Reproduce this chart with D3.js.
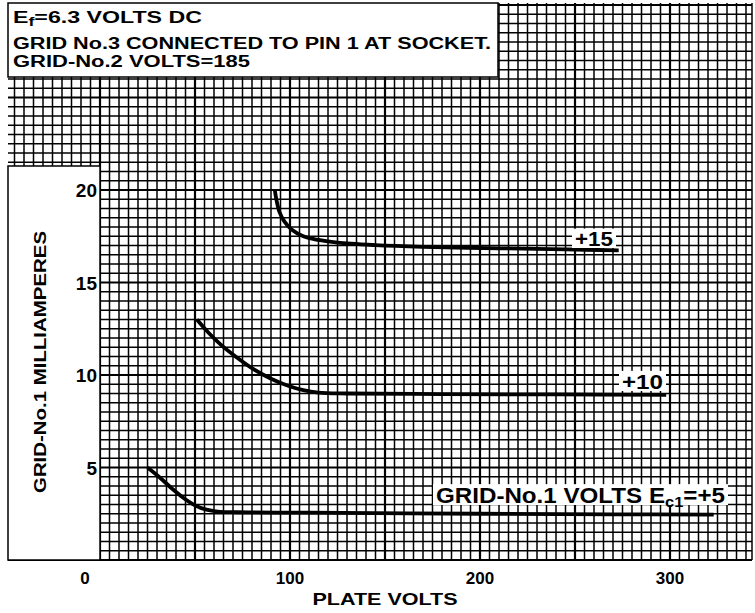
<!DOCTYPE html>
<html><head><meta charset="utf-8">
<script src="https://cdn.jsdelivr.net/npm/d3@7"></script>
<style>
html,body{margin:0;padding:0;background:#fff;}
svg{display:block;}
text{font-family:"Liberation Sans","DejaVu Sans",sans-serif;font-weight:bold;fill:#000;}
</style></head>
<body>
<svg id="c" width="755" height="613"></svg>
<script>
// ---- data ----
const xTicks = [0, 100, 200, 300];
const yTicks = [5, 10, 15, 20];
const seriesNames = ["+15", "+10", "+5"];
const ec15 = [[92,20.0],[93,19.4],[94.5,18.8],[97,18.3],[101,17.85],[107,17.5],[115,17.3],[125,17.15],[145,17.02],[170,16.93],[210,16.85],[245,16.79],[273,16.74]];
const ec10 = [[51,13.0],[57,12.3],[64,11.6],[72,10.95],[81,10.3],[90,9.8],[99,9.42],[107,9.18],[115,9.05],[130,9.0],[180,8.97],[240,8.95],[298,8.93]];
const ec5  = [[25,5.0],[31,4.5],[38,3.85],[44,3.35],[50,2.95],[56,2.72],[62,2.62],[72,2.58],[110,2.56],[200,2.5],[270,2.47],[323,2.45]];
const headerLines = ["=6.3 VOLTS DC", "GRID No.3 CONNECTED TO PIN 1 AT SOCKET.", "GRID-No.2 VOLTS=185"];
const xTitle = "PLATE VOLTS";
const yTitle = "GRID-No.1 MILLIAMPERES";

const svg = d3.select("#c");
const x = d3.scaleLinear().domain([0, 340]).range([100, 746]);
const y = d3.scaleLinear().domain([0, 30]).range([560, 5]);

// ---- grid ----
const g = svg.append("g");
const vLines = d3.range(-45, 345, 5);
const hLines = d3.range(0, 30.01, 0.5);
g.selectAll("line.v").data(vLines).join("line")
  .attr("x1", d => x(d)).attr("x2", d => x(d))
  .attr("y1", 3).attr("y2", 560)
  .attr("stroke", "#000")
  .attr("stroke-width", d => d % 50 === 0 ? 2.2 : 1.5);
g.selectAll("line.h").data(hLines).join("line")
  .attr("x1", 8).attr("x2", 752)
  .attr("y1", d => y(d)).attr("y2", d => y(d))
  .attr("stroke", "#000")
  .attr("stroke-width", d => d % 5 === 0 ? 2.2 : 1.5);
svg.append("line").attr("x1", 8).attr("x2", 752).attr("y1", 560).attr("y2", 560)
  .attr("stroke", "#000").attr("stroke-width", 2);
svg.append("line").attr("x1", 752).attr("x2", 752).attr("y1", 3).attr("y2", 560)
  .attr("stroke", "#000").attr("stroke-width", 1.5);

// ---- header box ----
svg.append("rect").attr("x", 8).attr("y", 3).attr("width", 490).attr("height", 74)
  .attr("fill", "#fff").attr("stroke", "#000").attr("stroke-width", 1.5);
const h1 = svg.append("text").attr("x", 13).attr("y", 23).attr("font-size", 17)
  .attr("textLength", 189).attr("lengthAdjust", "spacingAndGlyphs");
h1.append("tspan").text("E");
h1.append("tspan").attr("font-size", 13).attr("dy", 3).text("f");
h1.append("tspan").attr("dy", -3).text(headerLines[0]);
svg.append("text").attr("x", 13).attr("y", 49).attr("font-size", 16)
  .attr("textLength", 478).attr("lengthAdjust", "spacingAndGlyphs").text(headerLines[1]);
svg.append("text").attr("x", 13).attr("y", 67).attr("font-size", 16)
  .attr("textLength", 237).attr("lengthAdjust", "spacingAndGlyphs").text(headerLines[2]);

// ---- left label box ----
svg.append("rect").attr("x", 8).attr("y", 166).attr("width", 92).attr("height", 394)
  .attr("fill", "#fff").attr("stroke", "#000").attr("stroke-width", 1.5);

// y ticks
svg.selectAll("text.yt").data(yTicks).join("text")
  .attr("class", "yt").attr("x", 97).attr("y", d => y(d) + 7)
  .attr("text-anchor", "end").attr("font-size", 19).text(d => d);
// y title
svg.append("text").attr("transform", "translate(46,362) rotate(-90)")
  .attr("text-anchor", "middle").attr("font-size", 17)
  .attr("textLength", 262).attr("lengthAdjust", "spacingAndGlyphs").text(yTitle);

// x ticks
svg.selectAll("text.xt").data(xTicks).join("text")
  .attr("class", "xt").attr("x", d => x(d) + (d === 0 ? -15 : 0)).attr("y", 584)
  .attr("text-anchor", "middle").attr("font-size", 17).text(d => d);
svg.append("text").attr("x", 385).attr("y", 605).attr("text-anchor", "middle")
  .attr("font-size", 17).attr("textLength", 145).attr("lengthAdjust", "spacingAndGlyphs").text(xTitle);

// ---- curves ----
const line = d3.line().x(d => x(d[0])).y(d => y(d[1])).curve(d3.curveCatmullRom.alpha(0.5));
[ec15, ec10, ec5].forEach(s => {
  svg.append("path").attr("d", line(s)).attr("fill", "none")
    .attr("stroke", "#000").attr("stroke-width", 3.8).attr("stroke-linecap", "butt");
});

// ---- curve labels with white backgrounds ----
function boxed(x0, base, len, size, build) {
  const grp = svg.append("g");
  const cap = size * 0.72;
  grp.append("rect").attr("fill", "#fff")
    .attr("x", x0 - 3).attr("y", base - cap - 3).attr("width", len + 6).attr("height", cap + 5);
  const t = grp.append("text").attr("x", x0).attr("y", base).attr("font-size", size)
    .attr("textLength", len).attr("lengthAdjust", "spacingAndGlyphs");
  build(t);
}
boxed(575, 246, 38, 20, t => t.text(seriesNames[0]));
boxed(622, 389, 41, 21, t => t.text(seriesNames[1]));
boxed(436, 503, 289, 22, t => {
  t.append("tspan").text("GRID-No.1 VOLTS E");
  t.append("tspan").attr("font-size", 15).attr("dy", 4).text("c1");
  t.append("tspan").attr("dy", -4).text("=" + seriesNames[2]);
});
</script>
</body></html>
